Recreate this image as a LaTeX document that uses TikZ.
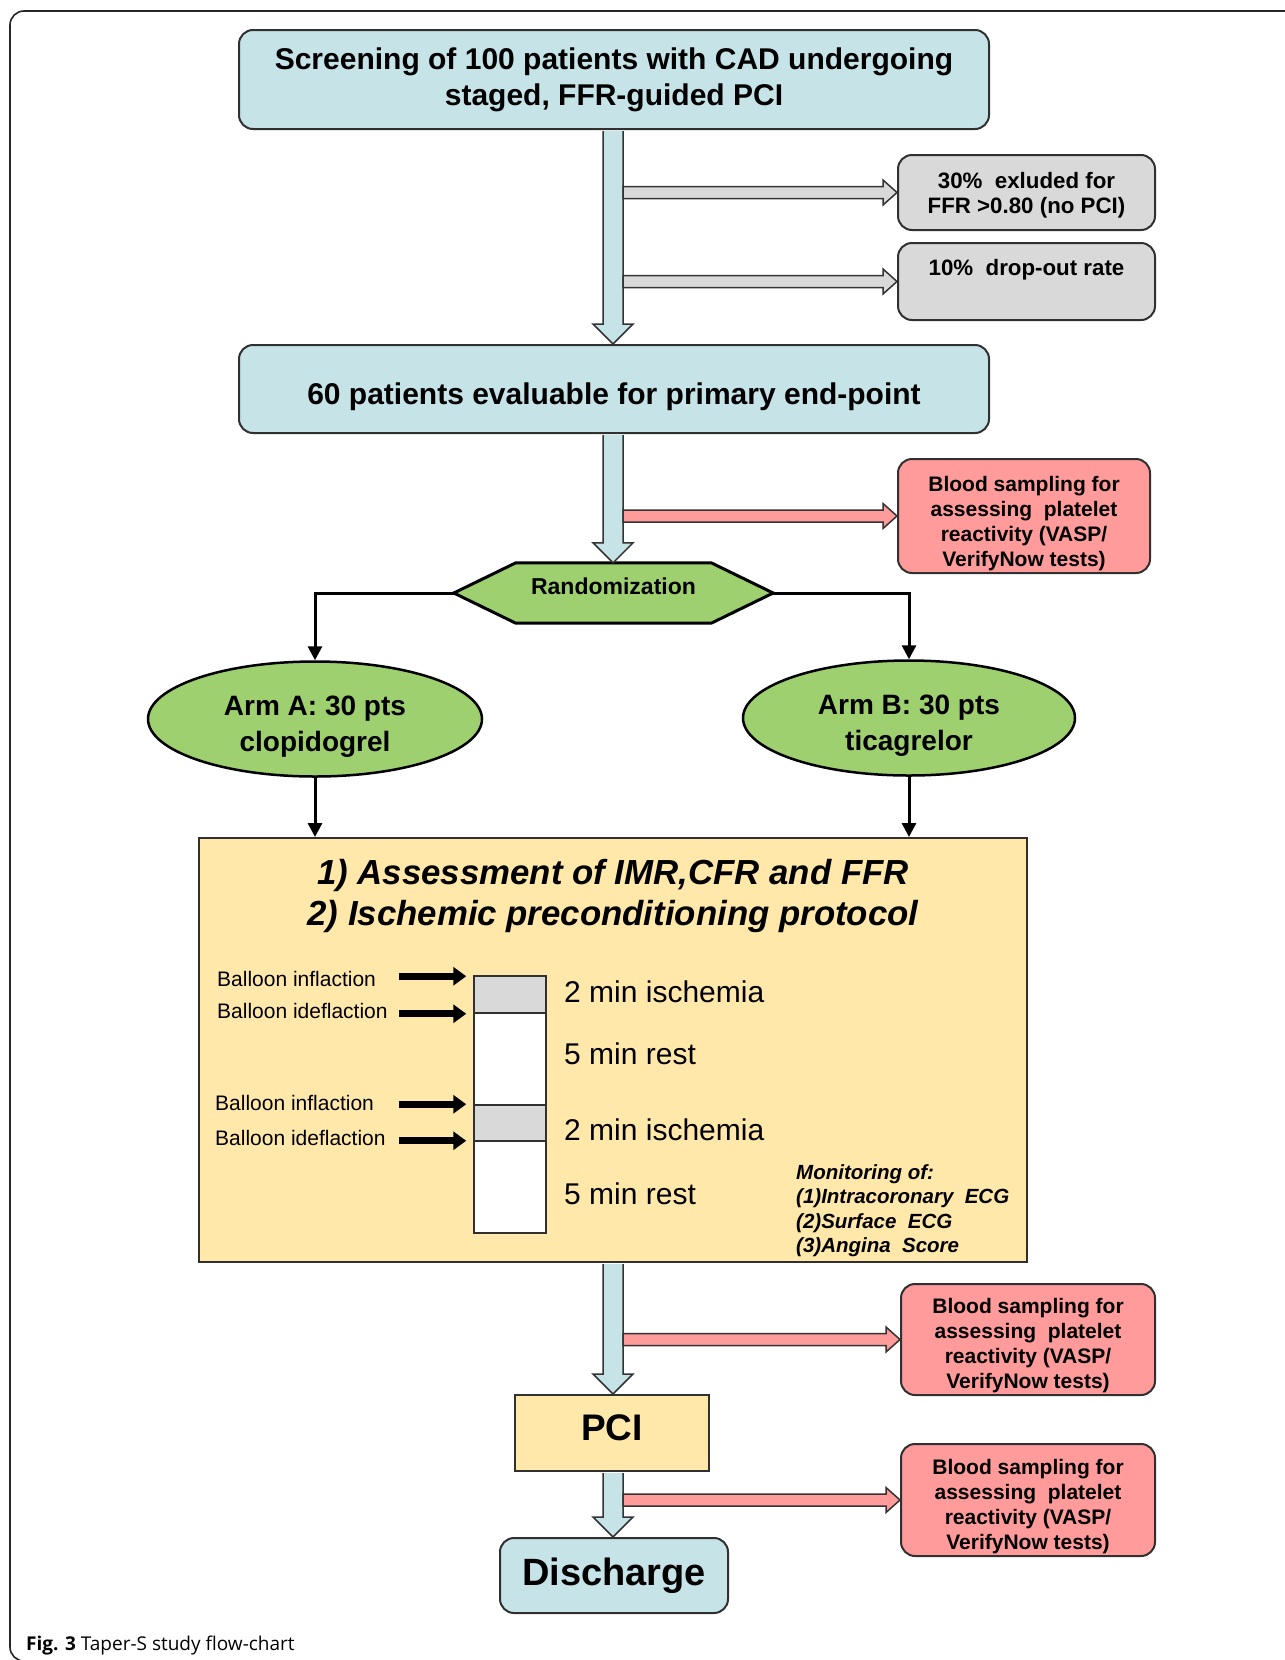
\documentclass[tikz,border=0pt]{standalone}
\usepackage{fontspec}
\setmainfont{Liberation Sans}
\newfontfamily\capfont{Open Sans}
\usetikzlibrary{arrows.meta,calc,shapes.geometric,backgrounds}
\definecolor{cblue}{HTML}{C6E3E8}
\definecolor{cgray}{HTML}{D9D9D9}
\definecolor{cpink}{HTML}{FF9B9B}
\definecolor{cgreen}{HTML}{9FD06F}
\definecolor{cyel}{HTML}{FFE8AA}
\definecolor{cline}{HTML}{303030}
\newcommand\myvblock[3]{\draw[blockarr,fill=#3] ($(tr|-#1)+(-10,1)$) -- ($(tr|-#2)+(-10,-20)$) -- ($(tr|-#2)+(-20,-20)$) -- (tr|-#2) -- ($(tr|-#2)+(20,-20)$) -- ($(tr|-#2)+(10,-20)$) -- ($(tr|-#1)+(10,1)$);}
\newcommand\myhblock[2]{\draw[blockarr,fill=#2] ($(tr|-#1)+(10,-6)$) -- ($(#1)+(-14,-6)$) -- ($(#1)+(-14,-12.5)$) -- (#1) -- ($(#1)+(-14,12.5)$) -- ($(#1)+(-14,6)$) -- ($(tr|-#1)+(10,6)$) -- cycle;}
\begin{document}
\begin{tikzpicture}[x=1pt,y=-1pt,
  box/.style={draw=cline,line width=2pt,rounded corners=14pt,align=center,inner sep=0pt},
  sqbox/.style={draw=cline,line width=2pt,align=center,inner sep=0pt},
  bigtxt/.style={inner sep=0pt,align=center,font={\fontsize{30}{36}\selectfont\bfseries}},
  graytxt/.style={inner sep=0pt,align=center,font={\fontsize{22.3}{24.8}\selectfont\bfseries}},
  pinktxt/.style={inner sep=0pt,align=center,font={\fontsize{21}{25}\selectfont\bfseries}},
  blockarr/.style={draw=black!80,line width=1.5pt,line join=miter},
  conn/.style={line width=3pt,-{Triangle[length=14pt,width=14pt]}},
  fatarr/.style={line width=7pt,-{Triangle[length=13pt,width=18pt]}},
  seg/.style={draw=cline,line width=1.5pt,minimum width=72,inner sep=0pt},
  steptxt/.style={anchor=west,inner sep=0pt,font={\fontsize{30}{36}\selectfont}},
  balltxt/.style={anchor=west,inner sep=0pt,font={\fontsize{21}{25}\selectfont}},
  armtxt/.style={inner sep=0pt,align=center,font={\fontsize{28}{36}\selectfont\bfseries}},
  armshape/.style={ellipse,draw=black,line width=2.5pt,fill=cgreen,minimum height=115,inner sep=0pt},
  titletxt/.style={inner sep=0pt,font={\fontsize{34.8}{41}\selectfont\bfseries\itshape}}]
\useasboundingbox (0,0) rectangle (1285,1660);
\begin{scope}
\clip (0,0) rectangle (1285,1660);
\draw[line width=1.6pt,rounded corners=14pt,draw=black!85] (10,11) rectangle (1400,1661);
\end{scope}
\coordinate (tr) at (613,0);
% boxes
\node[box,bigtxt,fill=cblue,minimum width=750,minimum height=99] (top) at (614,79.5) {Screening of 100 patients with CAD undergoing\\staged, FFR-guided PCI};
\node[box,fill=cblue,minimum width=750,minimum height=88] (p60) at (614,389) {};
\node[bigtxt] (p60t) at (614,396.5) {60 patients evaluable for primary end-point};
\node[box,fill=cgray,minimum width=257,minimum height=75] (g1) at (1026.5,192.5) {};
\node[graytxt] (g1t) at (1026.5,195) {30\%\ \ exluded for\\FFR >0.80 (no PCI)};
\node[box,fill=cgray,minimum width=257,minimum height=77] (g2) at (1026.5,281.5) {};
\node[graytxt] (g2t) at (1026.5,270) {10\%\ \ drop-out rate};
\node[box,fill=cpink,minimum width=252,minimum height=114] (pk1) at (1024,516) {};
\node[pinktxt] (pk1t) at (1024,524) {Blood sampling for\\assessing\ \ platelet\\reactivity (VASP/\\VerifyNow tests)};
\node[box,fill=cpink,minimum width=254,minimum height=111] (pk2) at (1028,1339.5) {};
\node[pinktxt] (pk2t) at (1028,1346) {Blood sampling for\\assessing\ \ platelet\\reactivity (VASP/\\VerifyNow tests)};
\node[box,fill=cpink,minimum width=254,minimum height=112] (pk3) at (1028,1500) {};
\node[pinktxt] (pk3t) at (1028,1507) {Blood sampling for\\assessing\ \ platelet\\reactivity (VASP/\\VerifyNow tests)};
% randomization hexagon
\node[inner sep=0pt,minimum width=195,minimum height=60] (rand) at (613.5,593) {};
\node[inner sep=0pt,font={\fontsize{23}{27}\selectfont\bfseries}] (randt) at (613.5,586.5) {Randomization};
\coordinate (hexL) at ($(rand.west)+(-62,0)$);
\coordinate (hexR) at ($(rand.east)+(62,0)$);
\begin{scope}[on background layer]
\draw[line width=3pt,fill=cgreen,line join=miter] (rand.north west) -- (rand.north east) -- (hexR) -- (rand.south east) -- (rand.south west) -- (hexL) -- cycle;
\end{scope}
% arms
\node[armshape,minimum width=334] (armA) at (315,719) {};
\node[armtxt] (armAt) at (315,726.5) {Arm A: 30 pts\\clopidogrel};
\node[armshape,minimum width=332] (armB) at (909,718) {};
\node[armtxt] (armBt) at (909,725.5) {Arm B: 30 pts\\ticagrelor};
% protocol box
\node[sqbox,fill=cyel,minimum width=828,minimum height=424] (yel) at (613,1050) {};
\node[titletxt] (t1) at (613,875) {1) Assessment of IMR,CFR and FFR};
\node[titletxt] (t2) at (613,916) {2) Ischemic preconditioning protocol};
\node[seg,fill=cgray,minimum height=37] (s1) at (510,994.5) {};
\node[seg,fill=white,minimum height=92] (s2) at (510,1059) {};
\node[seg,fill=cgray,minimum height=36] (s3) at (510,1123) {};
\node[seg,fill=white,minimum height=92] (s4) at (510,1187) {};
\node[steptxt] (l1) at (564,992) {2 min ischemia};
\node[steptxt] (l2) at (564,1054) {5 min rest};
\node[steptxt] (l3) at (564,1130) {2 min ischemia};
\node[steptxt] (l4) at (564,1194) {5 min rest};
\node[balltxt] (b1) at (217,979) {Balloon inflaction};
\node[balltxt] (b2) at (217,1011) {Balloon ideflaction};
\node[balltxt] (b3) at (215,1103) {Balloon inflaction};
\node[balltxt] (b4) at (215,1138) {Balloon ideflaction};
\draw[fatarr] ($(s1.north west)+(-74,1)$) -- ($(s1.north west)+(-7,1)$);
\draw[fatarr] ($(s1.south west)+(-74,0)$) -- ($(s1.south west)+(-7,0)$);
\draw[fatarr] ($(s3.north west)+(-74,0)$) -- ($(s3.north west)+(-7,0)$);
\draw[fatarr] ($(s3.south west)+(-74,-1)$) -- ($(s3.south west)+(-7,-1)$);
\node[anchor=north west,inner sep=0pt,align=left,font={\fontsize{20.5}{24.6}\selectfont\bfseries\itshape}] (mon) at (796,1164) {Monitoring of:\\(1)Intracoronary\ \ ECG\\(2)Surface\ \ ECG\\(3)Angina\ \ Score};
% PCI and discharge
\node[sqbox,fill=cyel,minimum width=194,minimum height=76] (pci) at (612,1433) {};
\node[inner sep=0pt,font={\fontsize{37}{44}\selectfont\bfseries}] (pcit) at (612,1428) {PCI};
\node[box,fill=cblue,minimum width=228,minimum height=75,font={\fontsize{38}{45}\selectfont\bfseries}] (dis) at (614,1575.5) {Discharge};
% block arrows
\myvblock{top.south}{p60.north}{cblue}
\myhblock{g1.west}{cgray}
\myhblock{g2.west}{cgray}
\myvblock{p60.south}{rand.north}{cblue}
\myhblock{pk1.west}{cpink}
\myvblock{yel.south}{pci.north}{cblue}
\myhblock{pk2.west}{cpink}
\myvblock{pci.south}{dis.north}{cblue}
\myhblock{pk3.west}{cpink}
% connectors
\draw[conn] (hexL) -| (armA.north);
\draw[conn] (hexR) -| (armB.north);
\draw[conn] (armA.south) -- (armA.south |- yel.north);
\draw[conn] (armB.south) -- (armB.south |- yel.north);
% caption
\node[anchor=base west,inner sep=0pt,font={\capfont\fontsize{19}{23}\selectfont}] (cap) at (26,1650) {\textbf{Fig. 3} Taper-S study flow-chart};
\end{tikzpicture}
\end{document}
